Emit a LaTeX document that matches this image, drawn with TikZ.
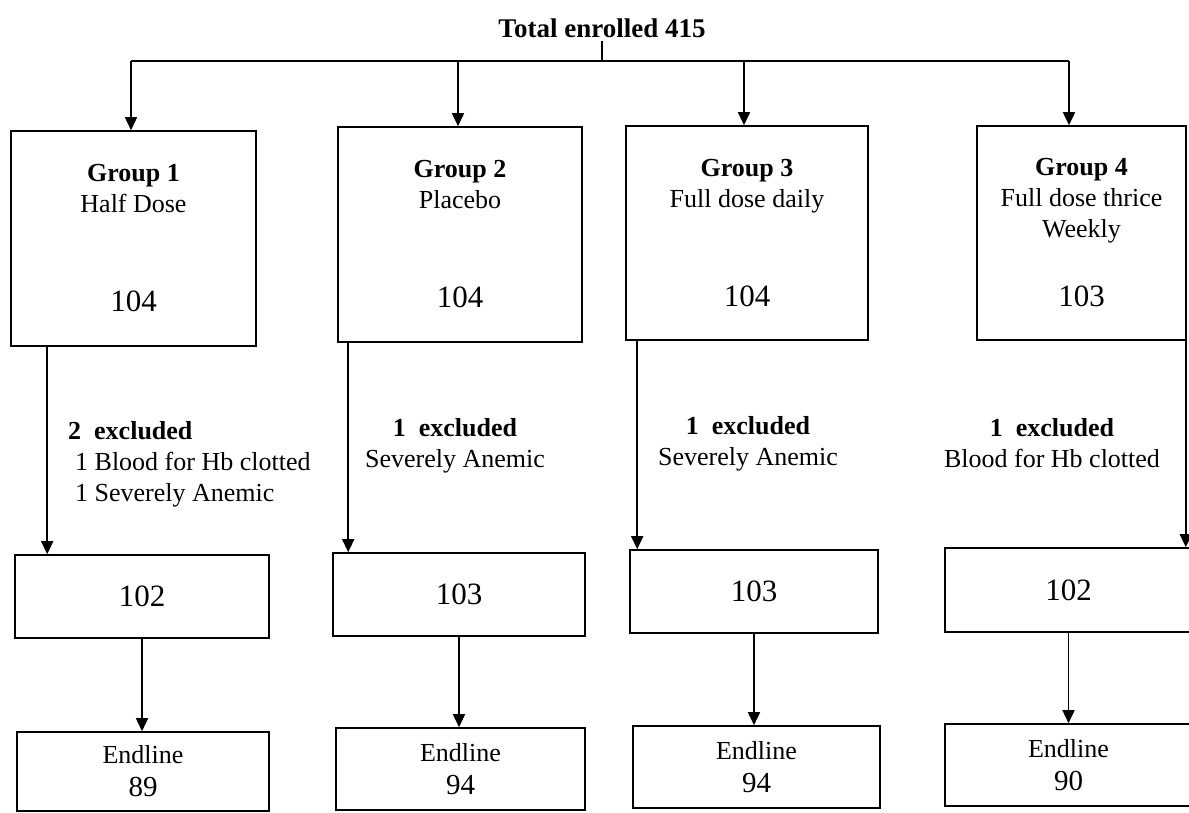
\documentclass[tikz,border=0pt]{standalone}
\usepackage{fontspec}
\setmainfont{Liberation Serif}
\usetikzlibrary{arrows.meta, positioning, calc}

\newcommand{\txtsize}{\fontsize{26}{31}\selectfont}
\newcommand{\numsize}{\fontsize{31}{37}\selectfont}

\begin{document}
\begin{tikzpicture}[x=1pt, y=-1pt,
        grpbox/.style={rectangle, draw, line width=1.6pt, inner sep=0pt, align=center, font=\txtsize},
        numbox/.style={rectangle, draw, line width=1.6pt, inner sep=0pt, align=center, font=\numsize},
        endbox/.style={rectangle, draw, line width=1.6pt, inner sep=0pt, align=center, font=\txtsize},
        exlabel/.style={align=center, font=\txtsize, inner sep=0pt},
        arrow/.style={-{Triangle[width=12pt, length=13pt]}, line width=1.6pt}
    ]
    \useasboundingbox (0,0) rectangle (1189,812);
    \clip (0,0) rectangle (1189,812);

    % Top
    \node[font=\fontsize{27}{32}\selectfont\bfseries] (total) at (602,28) {Total enrolled 415};
    \coordinate (b1) at (131,61);
    \coordinate (b2) at (458,61);
    \coordinate (b3) at (744,61);
    \coordinate (b4) at (1069,61);

    % Groups
    \node[grpbox, minimum width=245pt, minimum height=215pt] (g1) at (133.5,238.5) {\textbf{Group 1}\\Half Dose\\[68pt]{\numsize 104}};
    \node[grpbox, minimum width=244pt, minimum height=215pt] (g2) at (460,234.5) {\textbf{Group 2}\\Placebo\\[68pt]{\numsize 104}};
    \node[grpbox, minimum width=242pt, minimum height=214pt] (g3) at (747,233) {\textbf{Group 3}\\Full dose daily\\[68pt]{\numsize 104}};
    \node[grpbox, minimum width=209pt, minimum height=214pt] (g4) at (1081.5,233) {\textbf{Group 4}\\Full dose thrice\\Weekly\\[38pt]{\numsize 103}};

    % Exclusions
    \node[exlabel, align=left, anchor=west] (x1) at (68,464) {\textbf{2\ \ excluded}\\\hspace*{7pt}1 Blood for Hb clotted\\\hspace*{7pt}1 Severely Anemic};
    \node[exlabel] (x2) at (455,446) {\textbf{1\ \ excluded}\\Severely Anemic};
    \node[exlabel] (x3) at (748,444) {\textbf{1\ \ excluded}\\Severely Anemic};
    \node[exlabel] (x4) at (1052,443) {\textbf{1\ \ excluded}\\Blood for Hb clotted};

    % After exclusion
    \node[numbox, minimum width=254pt, minimum height=83pt] (m1) at (142,596.5) {102};
    \node[numbox, minimum width=252pt, minimum height=83pt] (m2) at (459,594.5) {103};
    \node[numbox, minimum width=248pt, minimum height=83pt] (m3) at (754,591.5) {103};
    \node[numbox, minimum width=247pt, minimum height=84pt] (m4) at (1068.5,590) {102};

    % Endline
    \node[endbox, minimum width=252pt, minimum height=79pt] (e1) at (143,771.5) {Endline\\[2pt]{\fontsize{29}{34}\selectfont 89}};
    \node[endbox, minimum width=249pt, minimum height=82pt] (e2) at (460.5,769) {Endline\\[2pt]{\fontsize{29}{34}\selectfont 94}};
    \node[endbox, minimum width=247pt, minimum height=82pt] (e3) at (756.5,767) {Endline\\[2pt]{\fontsize{29}{34}\selectfont 94}};
    \node[endbox, minimum width=247pt, minimum height=82pt] (e4) at (1068.5,765) {Endline\\[2pt]{\fontsize{29}{34}\selectfont 90}};

    % Connections - top
    \draw[line width=1.6pt] (total.south) -- (total.south |- b1);
    \draw[line width=1.6pt] (b1) -- (b4);
    \foreach \i in {1,...,4} {
        \draw[arrow] (b\i) -- (b\i |- g\i.north);
    }

    % Connections - groups to exclusion boxes
    \coordinate (d1) at ([xshift=37pt]g1.south west);
    \coordinate (d2) at ([xshift=11pt]g2.south west);
    \coordinate (d3) at ([xshift=12pt]g3.south west);
    \coordinate (d4) at ([xshift=-1pt]g4.south east);
    \foreach \i in {1,...,4} {
        \draw[arrow] (d\i) -- (d\i |- m\i.north);
    }

    % Connections - to endline
    \foreach \i in {1,...,4} {
        \draw[arrow] (m\i.south) -- (m\i.south |- e\i.north);
    }

\end{tikzpicture}
\end{document}
